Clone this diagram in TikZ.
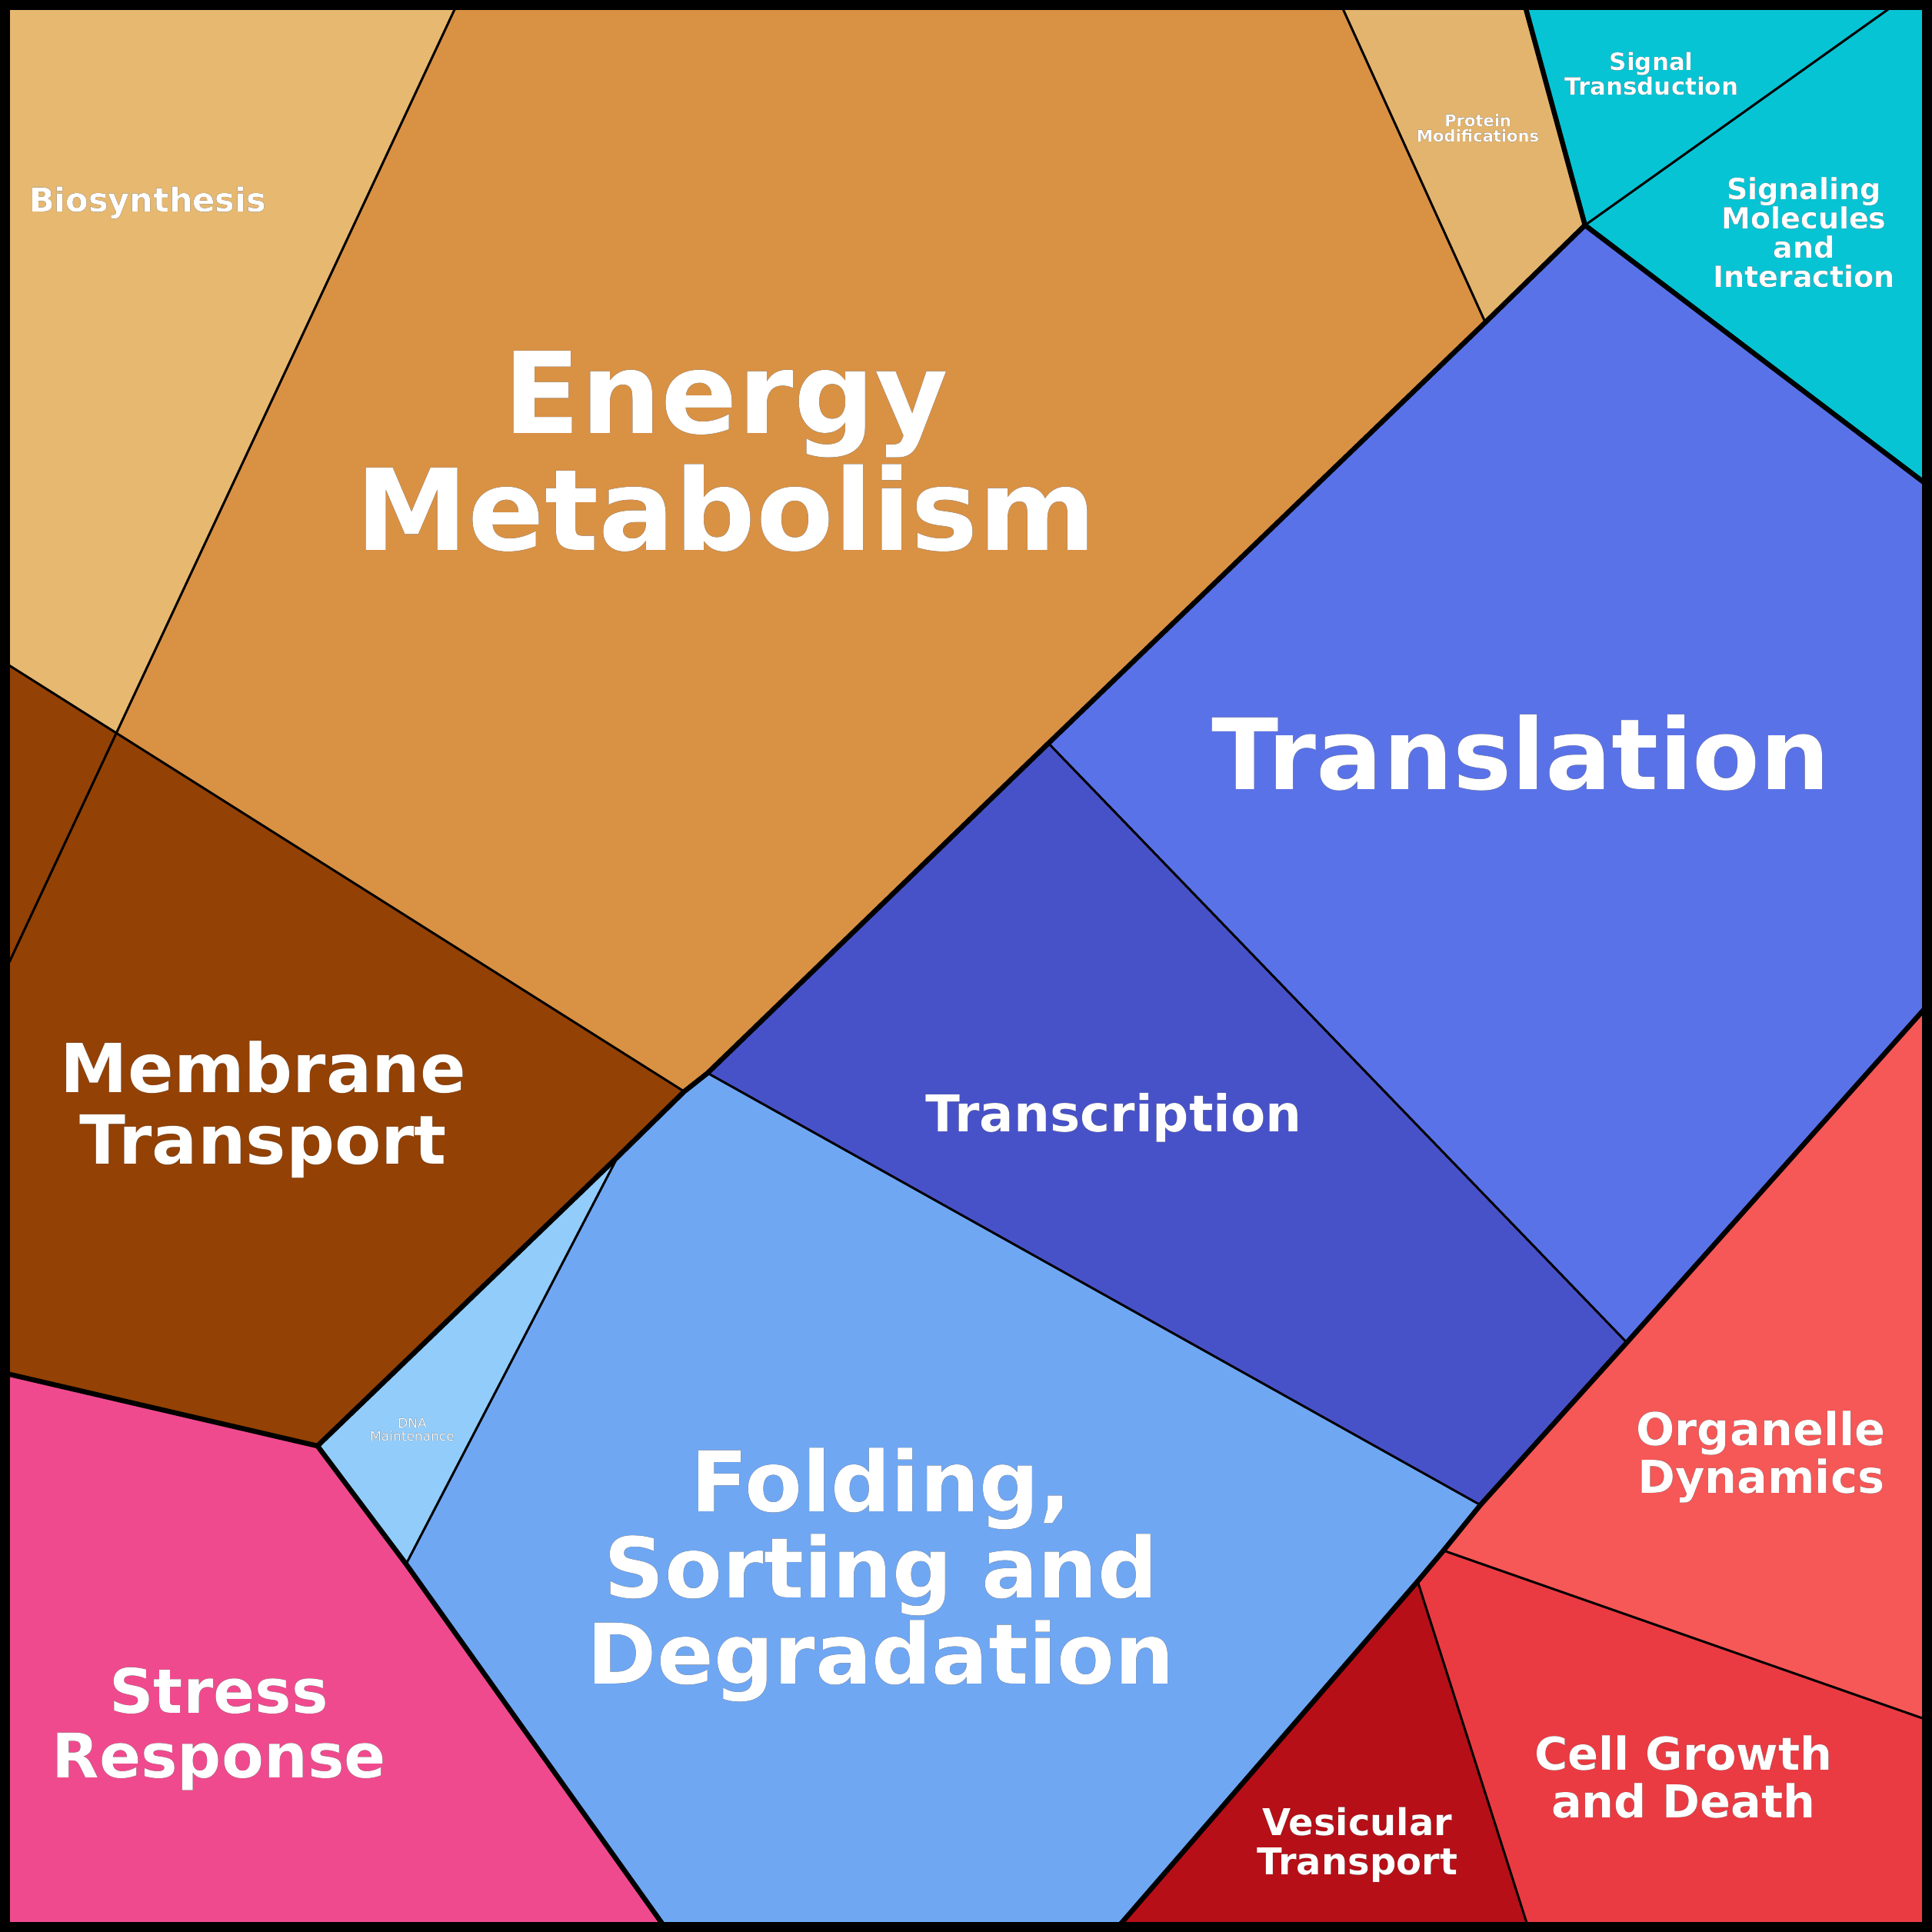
\documentclass[tikz,border=0pt]{standalone}
\usepackage{fontspec}
\setmainfont{DejaVu Sans}
\usepackage[outline]{contour}
\contourlength{1.8pt}
\begin{document}
\begin{tikzpicture}[x=1.6pt,y=-1.6pt,
  thin line/.style={line width=3pt,line join=round},
  thick line/.style={line width=6.5pt,line join=round},
  lbl/.style={text=white,align=center,inner sep=0pt,font=\bfseries}]
\useasboundingbox (0,0) rectangle (1570,1570);
\coordinate (A) at (373,0); \coordinate (B) at (0,798);
\coordinate (C) at (1088,0); \coordinate (D) at (1238,0);
\coordinate (E) at (1288,183); \coordinate (F) at (1207,262);
\coordinate (G) at (1545,0); \coordinate (H) at (1570,397);
\coordinate (I) at (852,604); \coordinate (J) at (556,887);
\coordinate (K) at (0,536); \coordinate (L) at (575,872);
\coordinate (M) at (1322,1091); \coordinate (N) at (1570,813);
\coordinate (O) at (1203,1223); \coordinate (P) at (1173,1260);
\coordinate (Q) at (1570,1399); \coordinate (R) at (1152,1285);
\coordinate (S) at (1243,1570); \coordinate (T) at (905,1570);
\coordinate (U) at (543,1570); \coordinate (V) at (330,1271);
\coordinate (W) at (258,1175); \coordinate (X) at (0,1115);
\coordinate (Y) at (502,940);
\fill[fill={rgb,255:red,230;green,184;blue,112}] (0,0)--(A)--(B)--cycle;
\fill[fill={rgb,255:red,217;green,145;blue,68}] (A)--(C)--(F)--(I)--(L)--(J)--(K)--(B)--cycle;
\fill[fill={rgb,255:red,227;green,180;blue,110}] (C)--(D)--(E)--(F)--cycle;
\fill[fill={rgb,255:red,6;green,196;blue,212}] (D)--(1570,0)--(H)--(E)--cycle;
\fill[fill={rgb,255:red,90;green,114;blue,232}] (F)--(E)--(H)--(N)--(M)--(I)--cycle;
\fill[fill={rgb,255:red,72;green,82;blue,200}] (I)--(M)--(O)--(L)--cycle;
\fill[fill={rgb,255:red,147;green,65;blue,4}] (K)--(J)--(Y)--(W)--(X)--cycle;
\fill[fill={rgb,255:red,146;green,204;blue,250}] (Y)--(W)--(V)--cycle;
\fill[fill={rgb,255:red,111;green,167;blue,243}] (L)--(O)--(P)--(R)--(T)--(U)--(V)--(Y)--(J)--cycle;
\fill[fill={rgb,255:red,240;green,74;blue,142}] (X)--(W)--(V)--(U)--(0,1570)--cycle;
\fill[fill={rgb,255:red,246;green,87;blue,87}] (M)--(N)--(Q)--(P)--(O)--cycle;
\fill[fill={rgb,255:red,234;green,59;blue,67}] (P)--(Q)--(1570,1570)--(S)--(R)--cycle;
\fill[fill={rgb,255:red,183;green,15;blue,24}] (R)--(S)--(T)--cycle;
\draw[thin line] (A)--(B) (C)--(F) (E)--(G) (I)--(M) (L)--(O) (P)--(Q) (R)--(S) (Y)--(V) (K)--(J);
\draw[thick line] (D)--(E)--(H) (E)--(F)--(I)--(L)--(J)--(Y)--(W)--(X) (W)--(V)--(U) (M)--(N) (M)--(O)--(P)--(R)--(T);
\draw[line width=16pt] (3,3) rectangle (1567,1567);
\node[lbl,font=\bfseries\fontsize{147}{152}\selectfont] (em) at (590,367) {\contour{black}{Energy}\\\contour{black}{Metabolism}};
\node[lbl,font=\bfseries\fontsize{128}{134}\selectfont] (tl) at (1236,612) {\contour{black}{Translation}};
\node[lbl,font=\bfseries\fontsize{88}{93}\selectfont] (mt) at (214,902) {\contour{black}{Membrane}\\\contour{black}{Transport}};
\node[lbl,font=\bfseries\fontsize{66}{70}\selectfont] (tc) at (905,908) {\contour{black}{Transcription}};
\node[lbl,font=\bfseries\fontsize{109}{112}\selectfont] (fs) at (716,1280) {\contour{black}{Folding,}\\\contour{black}{Sorting and}\\\contour{black}{Degradation}};
\node[lbl,font=\bfseries\fontsize{80}{84}\selectfont] (sr) at (178,1405) {\contour{black}{Stress}\\\contour{black}{Response}};
\node[lbl,font=\bfseries\fontsize{59}{62}\selectfont] (od) at (1431,1184) {\contour{black}{Organelle}\\\contour{black}{Dynamics}};
\node[lbl,font=\bfseries\fontsize{59}{62}\selectfont] (cg) at (1368,1444) {\contour{black}{Cell Growth}\\\contour{black}{and Death}};
\node[lbl,font=\bfseries\fontsize{48}{51}\selectfont] (vt) at (1103,1499) {\contour{black}{Vesicular}\\\contour{black}{Transport}};
\node[lbl,font=\bfseries\fontsize{38}{38}\selectfont] (sm) at (1466,189) {\contour{black}{Signaling}\\\contour{black}{Molecules}\\\contour{black}{and}\\\contour{black}{Interaction}};
\node[lbl,font=\bfseries\fontsize{31}{29}\selectfont] (st) at (1342,60) {\contour{black}{Signal}\\\contour{black}{Transduction}};
\node[lbl,font=\bfseries\fontsize{21}{20}\selectfont] (pm) at (1201,104) {\contour{black}{Protein}\\\contour{black}{Modifications}};
\node[lbl,font=\bfseries\fontsize{43}{45}\selectfont] (bs) at (120,165) {\contour{black}{Biosynthesis}};
\node[lbl,font=\fontsize{17}{17}\selectfont] (dm) at (335,1162) {\contour{black}{DNA}\\\contour{black}{Maintenance}};
\end{tikzpicture}
\end{document}
